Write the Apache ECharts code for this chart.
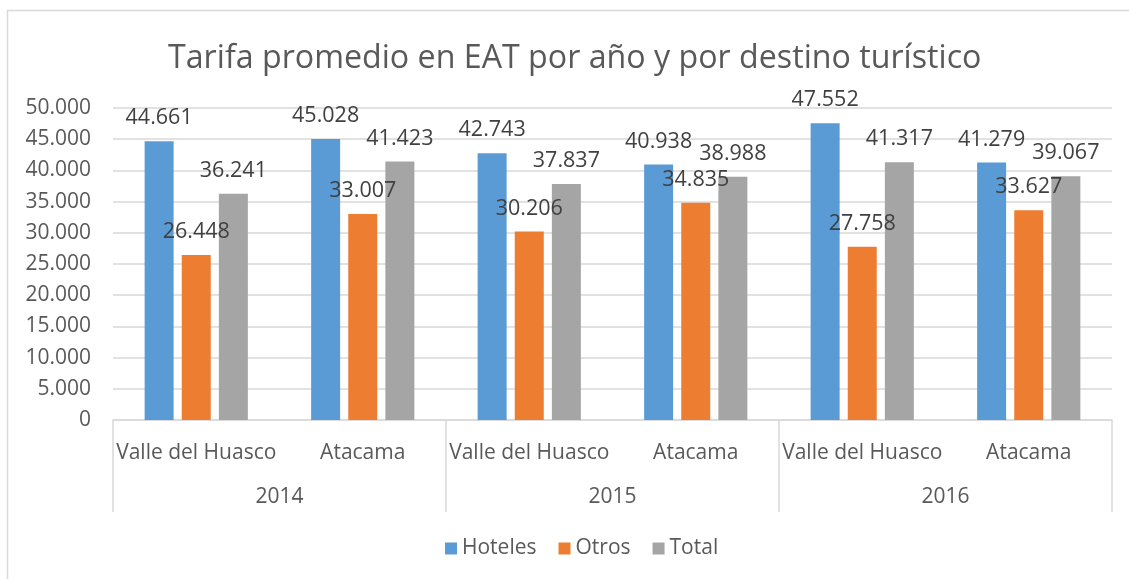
<!DOCTYPE html>
<html>
<head>
<meta charset="utf-8">
<script src="https://cdn.jsdelivr.net/npm/echarts@6/dist/echarts.min.js"></script>
<style>
  html, body { margin: 0; padding: 0; background: #fff; }
  #chart { width: 1129px; height: 579px; }
</style>
</head>
<body>
<div id="chart"></div>
<script>
// Destinations per year and the years that group them
const destinos = ['Valle del Huasco', 'Atacama', 'Valle del Huasco', 'Atacama', 'Valle del Huasco', 'Atacama'];
const anios = ['2014', '2015', '2016'];

// Average rate (CLP) per destination and year
const hoteles = [44661, 45028, 42743, 40938, 47552, 41279];
const otros   = [26448, 33007, 30206, 34835, 27758, 33627];
const total   = [36241, 41423, 37837, 38988, 41317, 39067];

// Y axis range
const yMin = 0, yMax = 50000, yStep = 5000;

const FONT = '"Open Sans", sans-serif';
const TEXT = '#595959';

// Spanish-style thousands separator: 44661 -> 44.661
function fmt(v) {
  return String(Math.round(v)).replace(/\B(?=(\d{3})+(?!\d))/g, '.');
}

function barSeries(name, data, color) {
  return {
    name: name,
    type: 'bar',
    data: data,
    barWidth: 29,
    barGap: '28%',
    itemStyle: { color: color },
    label: {
      show: true,
      position: 'top',
      distance: 12,
      formatter: p => fmt(p.value),
      color: '#404040',
      fontFamily: FONT,
      fontSize: 21.5
    }
  };
}

const chart = echarts.init(document.getElementById('chart'), null, { renderer: 'canvas' });
chart.setOption({
  backgroundColor: '#fff',
  animation: false,
  title: {
    text: 'Tarifa promedio en EAT por año y por destino turístico',
    left: 163,
    top: 38,
    textStyle: { color: TEXT, fontFamily: FONT, fontSize: 32.2, fontWeight: 'normal' }
  },
  graphic: [{
    type: 'rect',
    shape: { x: 7.5, y: 10.5, width: 1140, height: 600 },
    style: { fill: 'none', stroke: '#d9d9d9', lineWidth: 1.5 },
    silent: true,
    z: -1
  }],
  legend: {
    bottom: 15,
    left: 440,
    itemWidth: 12,
    itemHeight: 12,
    itemGap: 22,
    icon: 'rect',
    textStyle: { color: TEXT, fontFamily: FONT, fontSize: 21 },
    data: ['Hoteles', 'Otros', 'Total']
  },
  grid: { left: 113, right: 17, top: 108, bottom: 159, containLabel: false },
  xAxis: [{
    type: 'category',
    data: destinos,
    position: 'bottom',
    axisLine: { lineStyle: { color: '#d9d9d9', width: 1.5 } },
    axisTick: { show: false },
    axisLabel: { interval: 0, margin: 23, color: TEXT, fontFamily: FONT, fontSize: 21 }
  }, {
    type: 'category',
    data: anios,
    position: 'bottom',
    axisLine: { show: false },
    axisTick: { show: true, length: 92, lineStyle: { color: '#d9d9d9', width: 1.5 } },
    axisLabel: { interval: 0, margin: 67, color: TEXT, fontFamily: FONT, fontSize: 21 }
  }],
  yAxis: {
    type: 'value',
    min: yMin,
    max: yMax,
    interval: yStep,
    axisLine: { show: false },
    axisTick: { show: false },
    splitLine: { lineStyle: { color: '#d9d9d9', width: 1.5 } },
    axisLabel: { formatter: v => fmt(v), margin: 22, color: TEXT, fontFamily: FONT, fontSize: 21 }
  },
  series: [
    barSeries('Hoteles', hoteles, '#5B9BD5'),
    barSeries('Otros', otros, '#ED7D31'),
    barSeries('Total', total, '#A5A5A5')
  ]
});
</script>
</body>
</html>
